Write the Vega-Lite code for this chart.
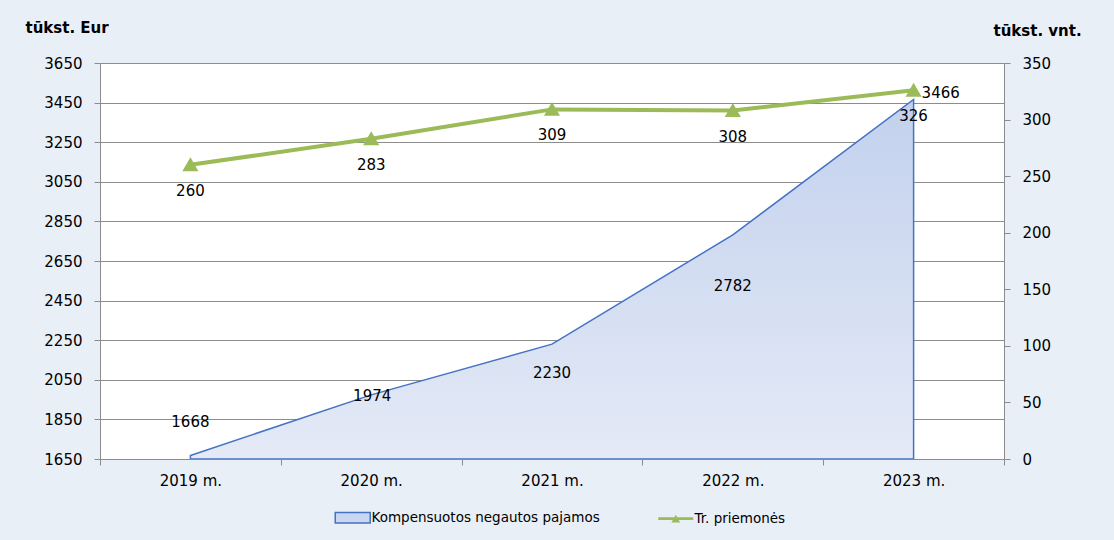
{
  "$schema": "https://vega.github.io/schema/vega-lite/v6.json",
  "width": 904,
  "height": 396,
  "autosize": {"type": "none"},
  "padding": {"left": 100, "top": 63, "right": 110, "bottom": 81},
  "background": "#e9eff7",
  "config": {
    "view": {"fill": "white", "stroke": null},
    "font": "DejaVu Sans",
    "axis": {
      "labelFont": "DejaVu Sans",
      "labelFontSize": 15,
      "labelColor": "#000000",
      "domainColor": "#8c8c8c",
      "tickColor": "#8c8c8c",
      "gridColor": "#8c8c8c",
      "titleFont": "DejaVu Sans",
      "titleFontSize": 15,
      "titleFontWeight": "bold",
      "titleColor": "#000000"
    },
    "legend": {
      "labelFont": "DejaVu Sans",
      "labelFontSize": 13.5,
      "labelColor": "#000000",
      "labelLimit": 400,
      "symbolSize": 1225,
      "padding": 0
    }
  },
  "data": {
    "values": [
      {"year": "2019 m.", "pajamos": 1668, "priemones": 260},
      {"year": "2020 m.", "pajamos": 1974, "priemones": 283},
      {"year": "2021 m.", "pajamos": 2230, "priemones": 309},
      {"year": "2022 m.", "pajamos": 2782, "priemones": 308},
      {"year": "2023 m.", "pajamos": 3466, "priemones": 326}
    ]
  },
  "encoding": {
    "x": {
      "field": "year",
      "type": "nominal",
      "sort": null,
      "bandPosition": 0.5,
      "scale": {"type": "band", "paddingInner": 0, "paddingOuter": 0},
      "axis": {
        "title": null,
        "labelAngle": 0,
        "tickBand": "extent",
        "tickSize": 6,
        "labelPadding": 8,
        "grid": false,
        "zindex": 1
      }
    }
  },
  "layer": [
    {
      "encoding": {
        "y": {
          "field": "pajamos",
          "type": "quantitative",
          "scale": {"domain": [1650, 3650], "zero": false, "nice": false},
          "axis": {
            "orient": "left",
            "values": [1650, 1850, 2050, 2250, 2450, 2650, 2850, 3050, 3250, 3450, 3650],
            "format": "d",
            "grid": true,
            "tickSize": 6,
            "labelPadding": 12,
            "zindex": 0,
            "title": "tūkst. Eur",
            "titleAngle": 0,
            "titleAlign": "left",
            "titleBaseline": "middle",
            "titleX": -75,
            "titleY": -36
          }
        }
      },
      "layer": [
        {
          "mark": {
            "type": "area",
            "fill": {
              "gradient": "linear",
              "x1": 0, "y1": 0, "x2": 0, "y2": 1,
              "stops": [
                {"offset": 0, "color": "#c3d1ee"},
                {"offset": 1, "color": "#e4eaf6"}
              ]
            },
            "strokeWidth": 1.5,
            "fillOpacity": 1
          },
          "encoding": {
            "y2": {"datum": 1650},
            "stroke": {
              "datum": "Kompensuotos negautos pajamos",
              "type": "nominal",
              "scale": {
                "domain": ["Kompensuotos negautos pajamos", "Tr. priemonės"],
                "range": ["#4472c4", "#9bbb59"]
              },
              "legend": {
                "title": null,
                "orient": "none",
                "direction": "horizontal",
                "legendX": 246,
                "legendY": 448,
                "padding": 0,
                "columnPadding": 58,
                "labelOffset": 12,
                "symbolSize": 1225,
                "symbolType": "M-1,-0.3H1V0.3H-1Z",
                "encode": {
                  "symbols": {
                    "update": {
                      "shape": {"signal": "datum.value === 'Tr. priemonės' ? 'M-1,-0.08H1V0.08H-1Z M-0.25,0.22L0,-0.22L0.25,0.22Z' : 'M-1,-0.3H1V0.3H-1Z'"},
                      "size": {"value": 1225},
                      "fill": {"signal": "datum.value === 'Tr. priemonės' ? '#9bbb59' : '#c9d6ef'"},
                      "stroke": {"signal": "datum.value === 'Tr. priemonės' ? '#9bbb59' : '#4472c4'"},
                      "strokeWidth": {"signal": "datum.value === 'Tr. priemonės' ? 0 : 1.5"}
                    }
                  }
                }
              }
            }
          }
        },
        {
          "transform": [{"filter": "datum.year == '2019 m.'"}],
          "mark": {"type": "text", "fontSize": 15, "color": "#000000", "baseline": "middle", "dy": -33},
          "encoding": {"text": {"field": "pajamos", "type": "quantitative"}}
        },
        {
          "transform": [{"filter": "datum.year == '2020 m.'"}],
          "mark": {"type": "text", "fontSize": 15, "color": "#000000", "baseline": "middle", "dy": 1, "dx": 1},
          "encoding": {"text": {"field": "pajamos", "type": "quantitative"}}
        },
        {
          "transform": [{"filter": "datum.year == '2021 m.'"}],
          "mark": {"type": "text", "fontSize": 15, "color": "#000000", "baseline": "middle", "dy": 29},
          "encoding": {"text": {"field": "pajamos", "type": "quantitative"}}
        },
        {
          "transform": [{"filter": "datum.year == '2022 m.'"}],
          "mark": {"type": "text", "fontSize": 15, "color": "#000000", "baseline": "middle", "dy": 51},
          "encoding": {"text": {"field": "pajamos", "type": "quantitative"}}
        },
        {
          "transform": [{"filter": "datum.year == '2023 m.'"}],
          "mark": {"type": "text", "fontSize": 15, "color": "#000000", "baseline": "middle", "align": "left", "dx": 8, "dy": -6},
          "encoding": {"text": {"field": "pajamos", "type": "quantitative"}}
        }
      ]
    },
    {
      "encoding": {
        "y": {
          "field": "priemones",
          "type": "quantitative",
          "scale": {"domain": [0, 350], "nice": false},
          "axis": {
            "orient": "right",
            "values": [0, 50, 100, 150, 200, 250, 300, 350],
            "grid": false,
            "tickSize": 6,
            "labelPadding": 12,
            "zindex": 1,
            "title": "tūkst. vnt.",
            "titleAngle": 0,
            "titleAlign": "left",
            "titleBaseline": "middle",
            "titleX": -11,
            "titleY": -33
          }
        }
      },
      "layer": [
        {
          "mark": {
            "type": "line",
            "strokeWidth": 4,
            "point": {"shape": "triangle-up", "size": 160, "filled": true, "color": "#9bbb59"}
          },
          "encoding": {
            "stroke": {
              "datum": "Tr. priemonės",
              "type": "nominal",
              "legend": {
                "title": null,
                "orient": "none",
                "direction": "horizontal",
                "legendX": 246,
                "legendY": 448,
                "padding": 0,
                "columnPadding": 58,
                "labelOffset": 12,
                "symbolSize": 1225,
                "symbolType": "M-1,-0.3H1V0.3H-1Z",
                "encode": {
                  "symbols": {
                    "update": {
                      "shape": {"signal": "datum.value === 'Tr. priemonės' ? 'M-1,-0.08H1V0.08H-1Z M-0.25,0.22L0,-0.22L0.25,0.22Z' : 'M-1,-0.3H1V0.3H-1Z'"},
                      "size": {"value": 1225},
                      "fill": {"signal": "datum.value === 'Tr. priemonės' ? '#9bbb59' : '#c9d6ef'"},
                      "stroke": {"signal": "datum.value === 'Tr. priemonės' ? '#9bbb59' : '#4472c4'"},
                      "strokeWidth": {"signal": "datum.value === 'Tr. priemonės' ? 0 : 1.5"}
                    }
                  }
                }
              }
            }
          }
        },
        {
          "mark": {"type": "text", "fontSize": 15, "color": "#000000", "baseline": "middle", "dy": 26},
          "encoding": {"text": {"field": "priemones", "type": "quantitative"}}
        }
      ]
    }
  ],
  "resolve": {"scale": {"y": "independent"}}
}
